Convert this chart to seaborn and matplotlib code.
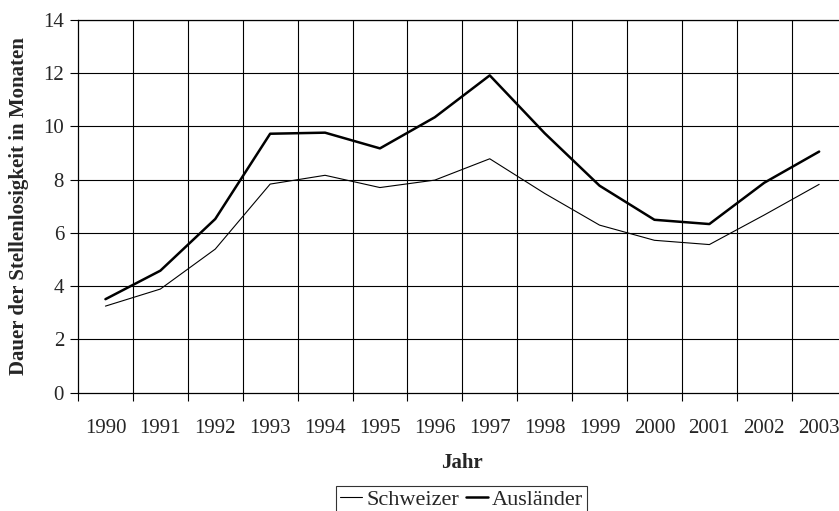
import numpy as np
import pandas as pd
import seaborn as sns
import matplotlib.pyplot as plt

# Dauer der Stellenlosigkeit (Monate)
jahre = [str(j) for j in range(1990, 2004)]
schweizer = [3.25, 3.89, 5.39, 7.83, 8.16, 7.70, 7.98, 8.78, 7.48, 6.29, 5.72, 5.56, 6.67, 7.82]
auslaender = [3.51, 4.58, 6.52, 9.72, 9.76, 9.17, 10.34, 11.91, 9.74, 7.77, 6.49, 6.33, 7.88, 9.05]

sns.set_style("white")
plt.rcParams["font.family"] = ["Liberation Serif", "DejaVu Serif"]

df = pd.DataFrame({"pos": np.arange(len(jahre)), "Schweizer": schweizer, "Ausländer": auslaender})

fig = plt.figure(figsize=(8.39, 5.11), dpi=100)
ax = fig.add_axes([78 / 839, 118.3 / 511, 768.6 / 839, 373 / 511])

sns.lineplot(data=df, x="pos", y="Schweizer", color="black", linewidth=0.8, ax=ax, label="Schweizer")
sns.lineplot(data=df, x="pos", y="Ausländer", color="black", linewidth=1.8, ax=ax, label="Ausländer")

ax.set_xlim(-0.5, len(jahre) - 0.5)
ax.set_ylim(0, 14)
ax.set_yticks(range(0, 15, 2))
ax.set_xticks(np.arange(len(jahre)))
ax.set_xticklabels(jahre)
ax.set_xticks(np.arange(-0.5, len(jahre)), minor=True)

# Gitter wie in Excel: senkrecht an den Kategoriegrenzen
ax.grid(False)
for y in range(2, 15, 2):
    ax.axhline(y, color="black", linewidth=0.8, zorder=0)
for x in np.arange(0.5, len(jahre) - 0.5):
    ax.axvline(x, color="black", linewidth=0.8, zorder=0)

for s in ax.spines.values():
    s.set_color("black")
    s.set_linewidth(0.9)

ax.tick_params(axis="x", which="major", length=0, labelsize=15, pad=19)
ax.tick_params(axis="x", which="minor", length=6, width=0.8, color="black", bottom=True)
ax.tick_params(axis="y", length=6, width=0.8, color="black", left=True, labelsize=15, pad=4)

ax.set_xlabel("Jahr", fontsize=15, fontweight="bold", labelpad=11)
ax.set_ylabel("Dauer der Stellenlosigkeit in Monaten", fontsize=15, fontweight="bold", labelpad=10)

ax.get_legend().remove()
handles, labels = ax.get_legend_handles_labels()
leg = fig.legend(handles, labels, loc="upper center", bbox_to_anchor=(0.55, 0.049), ncol=2,
                 fontsize=16, frameon=True, fancybox=False, edgecolor="black",
                 handlelength=1.0, handletextpad=0.2, columnspacing=0.3,
                 borderpad=0.15, borderaxespad=0)
leg.get_frame().set_linewidth(0.8)

fig.savefig("out.png", dpi=100)
